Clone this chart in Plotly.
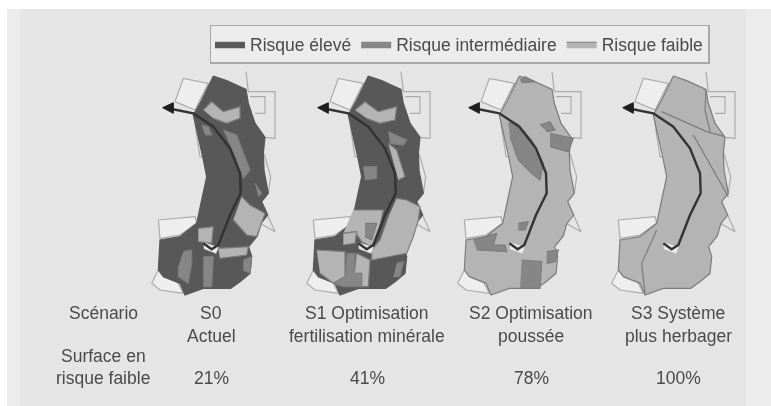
import plotly.graph_objects as go

# risk levels
LEVELS = ["Risque élevé", "Risque intermédiaire", "Risque faible"]
FILLS = {"Risque élevé": "#585858", "Risque intermédiaire": "#868686", "Risque faible": "#b4b4b4"}
EDGES = {"Risque élevé": "#585858", "Risque intermédiaire": "#7c7c7c", "Risque faible": "#7c7c7c"}

# map x origin of each scenario (same map drawn four times)
MAP_ORIGINS = [140, 295, 446, 600]
MAP_TOP = 60

# map outlines, in map units (3 units = 1 pixel)
OUTLINE = [(220, 48), (260, 62), (318, 88), (325, 130), (345, 190), (375, 232), (370, 280), (372, 330),
           (385, 400), (365, 425), (383, 465), (362, 492), (352, 528), (326, 560), (335, 590), (330, 640),
           (300, 665), (272, 685), (190, 685), (135, 705), (120, 670), (70, 650), (55, 630), (60, 540),
           (120, 530), (170, 490), (185, 420), (200, 350), (190, 300), (170, 210), (160, 165), (185, 120),
           (220, 48)]
RIVER = [(95, 147), (160, 160), (220, 200), (270, 265), (300, 340), (302, 400), (270, 465), (235, 555),
         (215, 568), (190, 550)]
LAKE = [(192, 548), (235, 562), (228, 580), (192, 566), (192, 548)]
ARROW = [(68, 143), (100, 128), (100, 160), (68, 143)]
NEIGHBOURS = [
    [(105, 125), (130, 55), (205, 70), (165, 150), (105, 125)],
    [(318, 35), (325, 95), (405, 95), (405, 235), (375, 232), (345, 190), (325, 130)],
    [(330, 110), (375, 110), (375, 160), (345, 160)],
    [(165, 190), (180, 200), (200, 290), (180, 290), (165, 190)],
    [(372, 280), (392, 350), (385, 400)],
    [(365, 425), (405, 515), (360, 490)],
    [(55, 480), (165, 470), (170, 490), (120, 525), (60, 535), (55, 480)],
    [(35, 670), (55, 630), (110, 660), (130, 700), (60, 690), (35, 670)],
]

# patches over the base colour of each scenario
S0_BASE = "Risque élevé"
S0_PATCHES = [
    ("Risque faible", [(190, 150), (215, 125), (250, 155), (300, 140), (300, 175), (260, 190), (220, 175)]),
    ("Risque intermédiaire", [(250, 210), (290, 225), (330, 330), (310, 355), (290, 300)]),
    ("Risque intermédiaire", [(185, 195), (205, 200), (215, 225), (195, 225)]),
    ("Risque faible", [(305, 410), (330, 435), (375, 460), (350, 530), (320, 525), (280, 480)]),
    ("Risque intermédiaire", [(345, 370), (365, 400), (355, 410)]),
    ("Risque faible", [(175, 505), (220, 500), (215, 550), (175, 545)]),
    ("Risque faible", [(235, 565), (325, 560), (320, 585), (240, 595)]),
    ("Risque intermédiaire", [(190, 590), (220, 590), (215, 680), (190, 680)]),
    ("Risque intermédiaire", [(130, 575), (155, 570), (155, 610), (145, 670), (115, 650), (115, 620)]),
    ("Risque intermédiaire", [(310, 600), (335, 590), (330, 640), (310, 630)]),
]
S1_BASE = "Risque élevé"
S1_PATCHES = [
    ("Risque faible", [(180, 150), (210, 125), (250, 155), (305, 140), (300, 180), (255, 190), (215, 175)]),
    ("Risque faible", [(280, 250), (305, 270), (330, 350), (310, 360)]),
    ("Risque intermédiaire", [(280, 215), (335, 240), (325, 255), (285, 250)]),
    ("Risque intermédiaire", [(205, 320), (245, 320), (245, 355), (210, 360)]),
    ("Risque faible", [(175, 450), (265, 450), (250, 520), (230, 560), (200, 545), (180, 515), (145, 520)]),
    ("Risque intermédiaire", [(210, 490), (245, 490), (230, 540), (210, 530)]),
    ("Risque faible", [(305, 415), (335, 420), (375, 440), (370, 480), (355, 530), (335, 580), (230, 600),
                       (230, 570), (255, 540), (280, 470)]),
    ("Risque faible", [(65, 570), (150, 575), (150, 650), (115, 670), (75, 640)]),
    ("Risque faible", [(145, 520), (185, 515), (180, 550), (145, 555)]),
    ("Risque intermédiaire", [(155, 580), (180, 580), (180, 640), (200, 640), (200, 680), (145, 680), (115, 670),
                              (150, 650)]),
    ("Risque faible", [(185, 580), (225, 600), (220, 680), (200, 680), (200, 640), (180, 640)]),
    ("Risque intermédiaire", [(305, 610), (325, 605), (315, 650), (295, 650)]),
]
S2_BASE = "Risque faible"
S2_PATCHES = [
    ("Risque intermédiaire", [(187, 190), (212, 190), (257, 240), (292, 310), (282, 360), (257, 340), (217, 300),
                              (192, 230)]),
    ("Risque intermédiaire", [(217, 490), (247, 485), (237, 510), (217, 510)]),
    ("Risque intermédiaire", [(82, 540), (152, 520), (142, 555), (177, 555), (182, 575), (92, 570)]),
    ("Risque intermédiaire", [(227, 600), (287, 605), (282, 685), (222, 685)]),
    ("Risque intermédiaire", [(302, 575), (337, 570), (327, 605), (302, 610)]),
    ("Risque intermédiaire", [(312, 220), (382, 235), (367, 275), (312, 260)]),
    ("Risque intermédiaire", [(282, 195), (312, 185), (327, 210), (302, 215)]),
    ("Risque intermédiaire", [(222, 60), (237, 50), (267, 65), (227, 68)]),
]
S3_BASE = "Risque faible"
S3_PATCHES = []
SCENARIO_BASES = [S0_BASE, S1_BASE, S2_BASE, S3_BASE]
SCENARIO_PATCHES = [S0_PATCHES, S1_PATCHES, S2_PATCHES, S3_PATCHES]

# thin limits between communes in the last map
S3_LIMITS = [
    [(185, 155), (320, 215), (375, 230)],
    [(280, 225), (385, 410)],
    [(318, 90), (315, 150), (330, 215)],
    [(170, 510), (125, 610), (135, 700)],
]

# text table under the maps
SCENARIO_X = [211, 367, 531, 678]
SCENARIO_LINE1 = ["S0", "S1 Optimisation", "S2 Optimisation", "S3 Système"]
SCENARIO_LINE2 = ["Actuel", "fertilisation minérale", "poussée", "plus herbager"]
SURFACES = ["21%", "41%", "78%", "100%"]
ROW_HEAD_X = 103
TEXT_COLOR = "#4a4a4a"
FONT = "Liberation Sans"
FONT_SIZE = 17.5


def to_pixels(points, origin):
    xs = [origin + p[0] / 3 for p in points]
    ys = [MAP_TOP + p[1] / 3 for p in points]
    return xs, ys


fig = go.Figure()
seen = set()


def add_area(points, level, origin):
    xs, ys = to_pixels(points, origin)
    show = level not in seen
    seen.add(level)
    fig.add_trace(
        go.Scatter(
            x=xs,
            y=ys,
            mode="lines",
            fill="toself",
            fillcolor=FILLS[level],
            line=dict(color=EDGES[level], width=1.2),
            name=level,
            legendgroup=level,
            legendrank=LEVELS.index(level) + 1,
            showlegend=show,
            hoverinfo="skip",
        )
    )


for i, origin in enumerate(MAP_ORIGINS):
    # neighbouring communes first, they are only thin grey limits
    for part in NEIGHBOURS:
        xs, ys = to_pixels(part, origin)
        closed = part[0] == part[-1]
        fig.add_trace(
            go.Scatter(
                x=xs, y=ys, mode="lines", fill="toself" if closed else None, fillcolor="#eeeeee",
                line=dict(color="#ababab", width=1.2), showlegend=False, hoverinfo="skip",
            )
        )
    add_area(OUTLINE, SCENARIO_BASES[i], origin)
    for level, points in SCENARIO_PATCHES[i]:
        add_area(points, level, origin)
    if i == 3:
        for limit in S3_LIMITS:
            xs, ys = to_pixels(limit, origin)
            fig.add_trace(
                go.Scatter(x=xs, y=ys, mode="lines", line=dict(color="#7c7c7c", width=1.2),
                           showlegend=False, hoverinfo="skip")
            )
    xs, ys = to_pixels(LAKE, origin)
    fig.add_trace(
        go.Scatter(x=xs, y=ys, mode="lines", fill="toself", fillcolor="#ececec",
                   line=dict(color="#ececec", width=0.5), showlegend=False, hoverinfo="skip")
    )
    xs, ys = to_pixels(RIVER, origin)
    fig.add_trace(
        go.Scatter(x=xs, y=ys, mode="lines", line=dict(color="#333333", width=2.4),
                   showlegend=False, hoverinfo="skip")
    )
    xs, ys = to_pixels(ARROW, origin)
    fig.add_trace(
        go.Scatter(x=xs, y=ys, mode="lines", fill="toself", fillcolor="#1e1e1e",
                   line=dict(color="#1e1e1e", width=1), showlegend=False, hoverinfo="skip")
    )


def add_label(x, y, text):
    fig.add_annotation(x=x, y=y, text=text, showarrow=False, xanchor="center", yanchor="middle",
                       font=dict(family=FONT, size=FONT_SIZE, color=TEXT_COLOR))


add_label(ROW_HEAD_X, 313, "Scénario")
add_label(ROW_HEAD_X, 356, "Surface en")
add_label(ROW_HEAD_X, 378, "risque faible")
for x, line1, line2, surface in zip(SCENARIO_X, SCENARIO_LINE1, SCENARIO_LINE2, SURFACES):
    add_label(x, 313, line1)
    add_label(x, 336, line2)
    add_label(x, 378, surface)

fig.add_shape(type="rect", x0=20, x1=746, y0=9, y1=406, fillcolor="#e5e5e5", line_width=0, layer="below")

fig.update_layout(
    width=771,
    height=406,
    margin=dict(l=7, r=0, t=9, b=0),
    paper_bgcolor="#ffffff",
    plot_bgcolor="#ececec",
    xaxis=dict(range=[7, 771], visible=False, fixedrange=True),
    yaxis=dict(range=[406, 9], visible=False, fixedrange=True),
    legend=dict(
        orientation="h",
        x=0.2657,
        y=0.96,
        xanchor="left",
        yanchor="top",
        bgcolor="#ececec",
        bordercolor="#a8a8a8",
        borderwidth=1.5,
        itemwidth=30,
        font=dict(family=FONT, size=FONT_SIZE, color=TEXT_COLOR),
    ),
)

# the scan is soft, so the whole page is drawn a little out of focus
soften = (
    "document.body.style.margin='0';"
    "document.querySelector('.plotly-graph-div').style.filter='blur(0.65px)';"
)
fig.write_html("out.html", post_script=soften, config={"displayModeBar": False})
